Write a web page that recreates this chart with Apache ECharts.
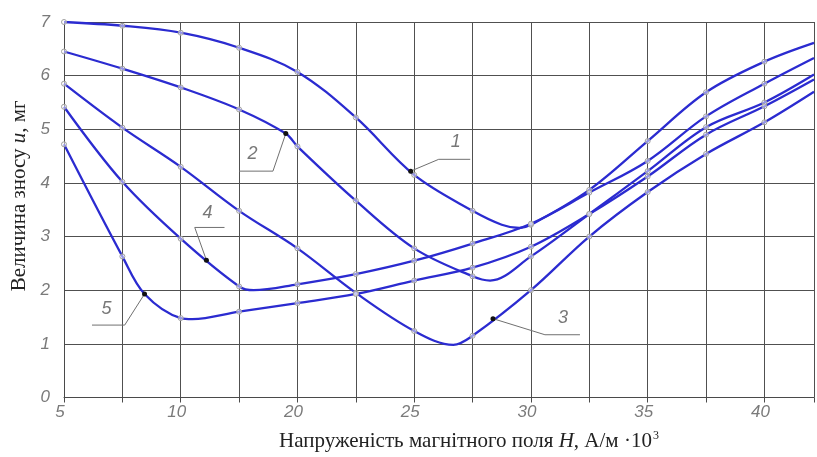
<!DOCTYPE html>
<html>
<head>
<meta charset="utf-8">
<script src="https://cdn.jsdelivr.net/npm/echarts@6/dist/echarts.min.js"></script>
<style>
html,body{margin:0;padding:0;background:#fff;}
#chart{width:817px;height:457px;}
</style>
</head>
<body>
<div id="chart"></div>
<script>
// x positions are grid-column indices (0 .. 12.85); tick labels as printed on the original axis
const xTickLabels = ['5','','10','','20','','25','','30','','35','','40'];
const xMax = 12.85;

// curve values: [grid index, wear u, mg]
const curve1 = [[0,7.0],[1,6.93],[2,6.8],[3,6.52],[4,6.07],[5,5.22],[6,4.15],[7,3.48],[7.5,3.22],[7.8,3.16],[8,3.22],[9,3.87],[10,4.78],[11,5.69],[12,6.26],[12.85,6.61]];
const curve2 = [[0,6.45],[1,6.13],[2,5.78],[3,5.37],[3.8,4.92],[4,4.68],[5,3.67],[6,2.78],[7,2.26],[7.3,2.18],[8,2.63],[9,3.42],[10,4.22],[11,5.04],[12,5.5],[12.85,6.02]];
const curve3 = [[0,5.85],[1,5.03],[2,4.3],[3,3.48],[4,2.78],[5,1.95],[6,1.24],[6.67,0.98],[7,1.15],[8,2.0],[9,3.0],[10,3.83],[11,4.54],[12,5.13],[12.85,5.7]];
const curve4 = [[0,5.42],[1,4.02],[2,2.96],[3,2.07],[3.25,2.0],[4,2.11],[5,2.3],[6,2.55],[7,2.87],[8,3.24],[9,3.82],[10,4.41],[11,5.24],[12,5.85],[12.85,6.33]];
const curve5 = [[0,4.72],[1,2.63],[1.38,1.93],[2,1.48],[2.2,1.46],[3,1.6],[4,1.76],[5,1.93],[6,2.18],[7,2.42],[8,2.81],[9,3.42],[10,4.12],[11,4.9],[12,5.43],[12.85,5.93]];
const curveNames = ['1','2','3','4','5'];

// leader annotations: dot on curve, elbow, end of shelf, label position
const leaderIds = ['1','2','3','4','5'];
const leaderPaths = [
  [[5.94,4.22],[6.42,4.44],[6.96,4.44]],
  [[3.8,4.92],[3.58,4.22],[3.0,4.22]],
  [[7.35,1.47],[8.24,1.17],[8.84,1.17]],
  [[2.44,2.56],[2.24,3.17],[2.75,3.17]],
  [[1.38,1.93],[1.04,1.35],[0.48,1.35]]
];
const leaderTextPos = [[6.71,4.76],[3.23,4.54],[8.55,1.48],[2.46,3.44],[0.73,1.65]];

const curves = [curve1, curve2, curve3, curve4, curve5];
const blue = '#2b2bd0';

const curveSeries = curves.map((c, k) => ({
  name: curveNames[k],
  type: 'line',
  smooth: 0.35,
  z: 3,
  data: c.map(p => ({
    value: p,
    symbol: Number.isInteger(p[0]) ? 'circle' : 'none'
  })),
  symbolSize: 5,
  itemStyle: { color: 'rgba(255,255,255,0.5)', borderColor: '#a0a0a0', borderWidth: 1 },
  lineStyle: { color: blue, width: 2.3 },
  emphasis: { disabled: true }
}));

const leaderSeries = leaderPaths.map((path, k) => ({
  name: 'leader' + leaderIds[k],
  type: 'line',
  z: 5,
  data: path.map((p, j) => ({
    value: p,
    symbol: j === 0 ? 'circle' : 'none'
  })),
  symbolSize: 5,
  itemStyle: { color: '#111' },
  lineStyle: { color: '#707070', width: 1 },
  emphasis: { disabled: true }
}));

const labelSeries = {
  type: 'scatter',
  z: 6,
  symbolSize: 0,
  data: leaderTextPos.map((p, k) => ({ value: p, name: leaderIds[k] })),
  label: {
    show: true, position: 'inside', formatter: '{b}',
    fontFamily: 'Liberation Sans Narrow, Liberation Sans, sans-serif',
    fontStyle: 'italic', fontSize: 18, color: '#555'
  },
  emphasis: { disabled: true }
};

const chart = echarts.init(document.getElementById('chart'), null, { renderer: 'canvas' });
chart.setOption({
  animation: false,
  backgroundColor: '#fff',
  grid: { left: 64, right: 0, top: 22, bottom: 57, containLabel: false },
  xAxis: {
    type: 'value', min: 0, max: xMax, interval: 1,
    name: 'Напруженість магнітного поля {i|H}, А/м ·10{sup|3}',
    nameLocation: 'middle', nameGap: 32,
    nameTextStyle: {
      fontFamily: 'Liberation Serif, serif', fontSize: 21, color: '#222',
      padding: [0, 0, 0, 60],
      rich: {
        i: { fontFamily: 'Liberation Serif, serif', fontSize: 21, fontStyle: 'italic', color: '#222' },
        sup: { fontFamily: 'Liberation Serif, serif', fontSize: 12, color: '#222', verticalAlign: 'top', padding: [0, 0, 12, 1] }
      }
    },
    axisLine: { show: true, lineStyle: { color: '#4a4a4a', width: 1 } },
    axisTick: { show: true, length: 5, lineStyle: { color: '#4a4a4a' } },
    axisLabel: {
      margin: 6,
      formatter: v => (Math.abs(v - Math.round(v)) < 1e-6 && xTickLabels[Math.round(v)] !== undefined) ? xTickLabels[Math.round(v)] : '',
      fontFamily: 'Liberation Sans Narrow, Liberation Sans, sans-serif',
      fontStyle: 'italic', fontSize: 17, color: '#7a7a7a',
      padding: [0, 8, 0, 0]
    },
    splitLine: { show: true, lineStyle: { color: '#505050', width: 1 } }
  },
  yAxis: {
    type: 'value', min: 0, max: 7, interval: 1,
    name: 'Величина зносу {i|u}, мг',
    nameLocation: 'middle', nameGap: 22,
    nameTextStyle: {
      fontFamily: 'Liberation Serif, serif', fontSize: 21, color: '#222',
      padding: [0, 0, 0, 28],
      rich: {
        i: { fontFamily: 'Liberation Serif, serif', fontSize: 21, fontStyle: 'italic', color: '#222' }
      }
    },
    axisLine: { show: true, lineStyle: { color: '#4a4a4a', width: 1 } },
    axisTick: { show: false },
    axisLabel: {
      margin: 14,
      fontFamily: 'Liberation Sans Narrow, Liberation Sans, sans-serif',
      fontStyle: 'italic', fontSize: 17, color: '#7a7a7a'
    },
    splitLine: { show: true, lineStyle: { color: '#505050', width: 1 } }
  },
  series: [...curveSeries, ...leaderSeries, labelSeries]
});
</script>
</body>
</html>
